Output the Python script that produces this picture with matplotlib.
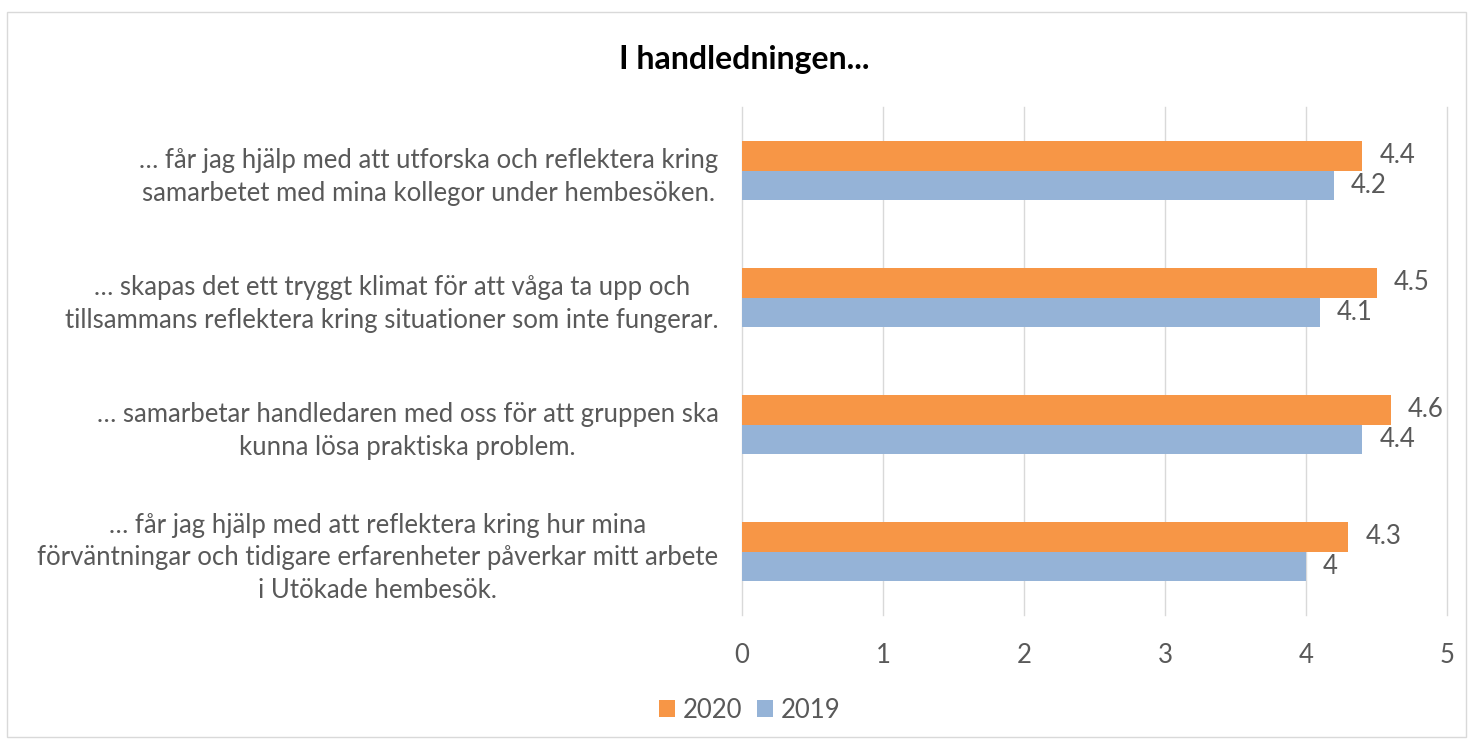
import numpy as np
import matplotlib.pyplot as plt
from matplotlib.patches import Rectangle

plt.rcParams['font.family'] = ['Lato', 'DejaVu Sans']

categories = [
    "… får jag hjälp med att utforska och reflektera kring\nsamarbetet med mina kollegor under hembesöken.",
    "… skapas det ett tryggt klimat för att våga ta upp och\ntillsammans reflektera kring situationer som inte fungerar.",
    "… samarbetar handledaren med oss för att gruppen ska\nkunna lösa praktiska problem.",
    "… får jag hjälp med att reflektera kring hur mina\nförväntningar och tidigare erfarenheter påverkar mitt arbete\ni Utökade hembesök.",
]
values_2020 = [4.4, 4.5, 4.6, 4.3]
values_2019 = [4.2, 4.1, 4.4, 4.0]
labels_2020 = ["4.4", "4.5", "4.6", "4.3"]
labels_2019 = ["4.2", "4.1", "4.4", "4"]
xticks = [0, 1, 2, 3, 4, 5]

orange = '#F79646'
blue = '#95B3D7'
text_col = '#595959'
fs = 18.5

fig = plt.figure(figsize=(14.73, 7.45), dpi=100)
ax = fig.add_axes([742/1473, 1 - 615/745, (1447-742)/1473, (615-107)/745])

y = np.arange(len(categories))
h = 0.235
b1 = ax.barh(y - h/2, values_2020, height=h, color=orange, label='2020')
b2 = ax.barh(y + h/2, values_2019, height=h, color=blue, label='2019')

for bars, labs in [(b1, labels_2020), (b2, labels_2019)]:
    for r, t in zip(bars, labs):
        ax.text(r.get_width() + 0.12, r.get_y() + r.get_height()/2, t,
                va='center', ha='left', fontsize=fs, color=text_col)

ax.set_ylim(len(categories) - 0.5, -0.5)
ax.set_xlim(0, 5)
ax.set_xticks(xticks)
ax.set_xticklabels([str(v) for v in xticks], fontsize=fs, color=text_col)
ax.set_yticks(y)
ax.set_yticklabels(categories, fontsize=fs, color=text_col, ha='right',
                   multialignment='center', linespacing=1.4)
ax.tick_params(axis='both', length=0)
ax.tick_params(axis='x', pad=20)
ax.tick_params(axis='y', pad=17)
ax.grid(axis='x', color='#D9D9D9', linewidth=1)
for gl in ax.get_xgridlines():
    gl.set_clip_on(False)
ax.set_axisbelow(True)
for s in ax.spines.values():
    s.set_visible(False)

fig.text(0.505, 1 - 60/745, 'I handledningen...', ha='center', va='center',
         fontsize=23, fontweight='bold', color='black')

fig.legend(handles=[b1, b2], labels=['2020', '2019'], loc='center',
           bbox_to_anchor=(0.509, 1 - 710/745), ncol=2, frameon=False,
           fontsize=fs, handlelength=0.6, handleheight=0.6, handletextpad=0.3,
           columnspacing=0.6, labelcolor=text_col)

fig.patches.append(Rectangle((7/1473, 1 - 737/745), 1459/1473, 725/745,
                             transform=fig.transFigure, fill=False,
                             edgecolor='#D9D9D9', linewidth=1))

fig.savefig('out.png', dpi=100)
